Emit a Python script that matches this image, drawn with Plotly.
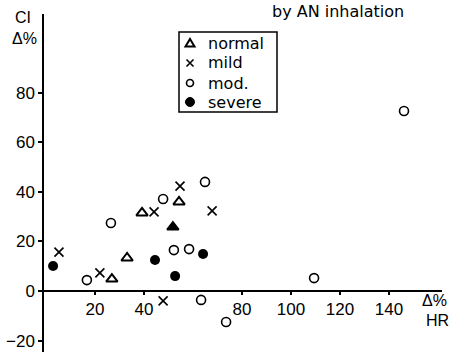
import plotly.graph_objects as go

# Data (HR Δ%, CI Δ%)
normal_x = [26.9, 33.1, 39.2, 54.3]
normal_y = [4.8, 13.3, 31.5, 35.9]
normal_filled_x = [51.8]
normal_filled_y = [25.8]
mild_x = [5.3, 22.0, 44.1, 54.7, 67.8, 47.8]
mild_y = [15.7, 7.3, 31.9, 42.3, 32.3, -4.0]
mod_x = [16.7, 26.5, 47.8, 52.2, 58.4, 64.9, 63.3, 73.5, 109.4, 146.1]
mod_y = [4.4, 27.4, 37.1, 16.5, 16.9, 44.0, -3.6, -12.5, 5.2, 72.6]
severe_x = [2.9, 44.5, 52.7, 64.1]
severe_y = [10.1, 12.5, 6.0, 14.9]

legend_labels = ["normal", "mild", "mod.", "severe"]
x_ticks = [20, 40, 80, 100, 120, 140]
y_ticks = [-20, 0, 20, 40, 60, 80]

W, H = 454, 352
ML, MR, MT, MB = 44, 12, 14, 0
XR = [-0.8, 161.6]
YR = [-24.6, 111.7]

def px(x):
    return (x - ML) / (W - ML - MR)

def py(y):
    return (H - MB - y) / (H - MT - MB)

FONT = "Liberation Sans"
WIDE = "DejaVu Sans"
fig = go.Figure()
lw = 1.6
fig.add_trace(go.Scatter(x=normal_x, y=normal_y, mode="markers", name=legend_labels[0],
                         marker=dict(symbol="triangle-up-open", size=10, color="black", line=dict(width=2))))
fig.add_trace(go.Scatter(x=mild_x, y=mild_y, mode="markers", name=legend_labels[1],
                         marker=dict(symbol="x-thin-open", size=9, color="black", line=dict(width=lw))))
fig.add_trace(go.Scatter(x=mod_x, y=mod_y, mode="markers", name=legend_labels[2],
                         marker=dict(symbol="circle-open", size=9, color="black", line=dict(width=lw))))
fig.add_trace(go.Scatter(x=severe_x, y=severe_y, mode="markers", name=legend_labels[3],
                         marker=dict(symbol="circle", size=10, color="black")))
fig.add_trace(go.Scatter(x=normal_filled_x, y=normal_filled_y, mode="markers", showlegend=False,
                         marker=dict(symbol="triangle-up", size=10, color="black", line=dict(width=2, color="black"))))

xpos = (0 - YR[0]) / (YR[1] - YR[0])
fig.update_layout(
    width=W, height=H,
    margin=dict(l=ML, r=MR, t=MT, b=MB),
    plot_bgcolor="white", paper_bgcolor="white",
    font=dict(family=FONT, color="black", size=15),
    showlegend=False,
    xaxis=dict(range=XR, tickvals=x_ticks, ticktext=[str(v) for v in x_ticks],
               showgrid=False, zeroline=False, showline=True, linecolor="black", linewidth=1.5,
               ticks="outside", ticklen=3, tickwidth=1.5, tickcolor="black",
               anchor="free", position=xpos, tickfont=dict(size=17, family=FONT)),
    yaxis=dict(range=YR, tickvals=y_ticks, ticktext=["\u221220", "0", "20", "40", "60", "80"],
               showgrid=False, zeroline=False, showline=True, linecolor="black", linewidth=1.5,
               ticks="outside", ticklen=4, tickwidth=1.5, tickcolor="black",
               tickfont=dict(size=17, family=FONT)),
)

# manual legend box
shapes = [dict(type="rect", xref="paper", yref="paper", x0=px(179), x1=px(277), y0=py(112), y1=py(32),
               line=dict(color="black", width=1.5), fillcolor="white", layer="above")]
rows = [43, 63, 83, 102]
mx = 190
r = rows[0]
shapes.append(dict(type="path", xref="paper", yref="paper",
                   path=f"M {px(mx-4.5)} {py(r+3.5)} L {px(mx+4.5)} {py(r+3.5)} L {px(mx)} {py(r-4)} Z",
                   line=dict(color="black", width=2), layer="above"))
r = rows[1]
shapes.append(dict(type="path", xref="paper", yref="paper",
                   path=f"M {px(mx-3.5)} {py(r-3.5)} L {px(mx+3.5)} {py(r+3.5)} M {px(mx-3.5)} {py(r+3.5)} L {px(mx+3.5)} {py(r-3.5)}",
                   line=dict(color="black", width=1.6), layer="above"))
r = rows[2]
shapes.append(dict(type="circle", xref="paper", yref="paper", x0=px(mx-3.5), x1=px(mx+3.5),
                   y0=py(r+3.5), y1=py(r-3.5), line=dict(color="black", width=1.6), layer="above"))
r = rows[3]
shapes.append(dict(type="circle", xref="paper", yref="paper", x0=px(mx-4.5), x1=px(mx+4.5),
                   y0=py(r+4.5), y1=py(r-4.5), line=dict(color="black", width=1), fillcolor="black", layer="above"))
fig.update_layout(shapes=shapes)

for lab, r in zip(legend_labels, rows):
    fig.add_annotation(text=lab, x=px(206), y=py(r), xref="paper", yref="paper",
                       showarrow=False, xanchor="left", yanchor="middle",
                       font=dict(size=16, family=WIDE, color="black"))

ann = [
    ("by AN inhalation", 338, 12, 16, WIDE),
    ("CI", 23, 17, 16, FONT),
    ("\u0394%", 24, 38, 16, FONT),
    ("\u0394%", 434, 300, 16, FONT),
    ("HR", 437, 320, 16, FONT),
]
for t, x, y, s, f in ann:
    fig.add_annotation(text=t, x=px(x), y=py(y), xref="paper", yref="paper",
                       showarrow=False, xanchor="center", yanchor="middle",
                       font=dict(size=s, family=f, color="black"))

fig.write_html("out.html")
